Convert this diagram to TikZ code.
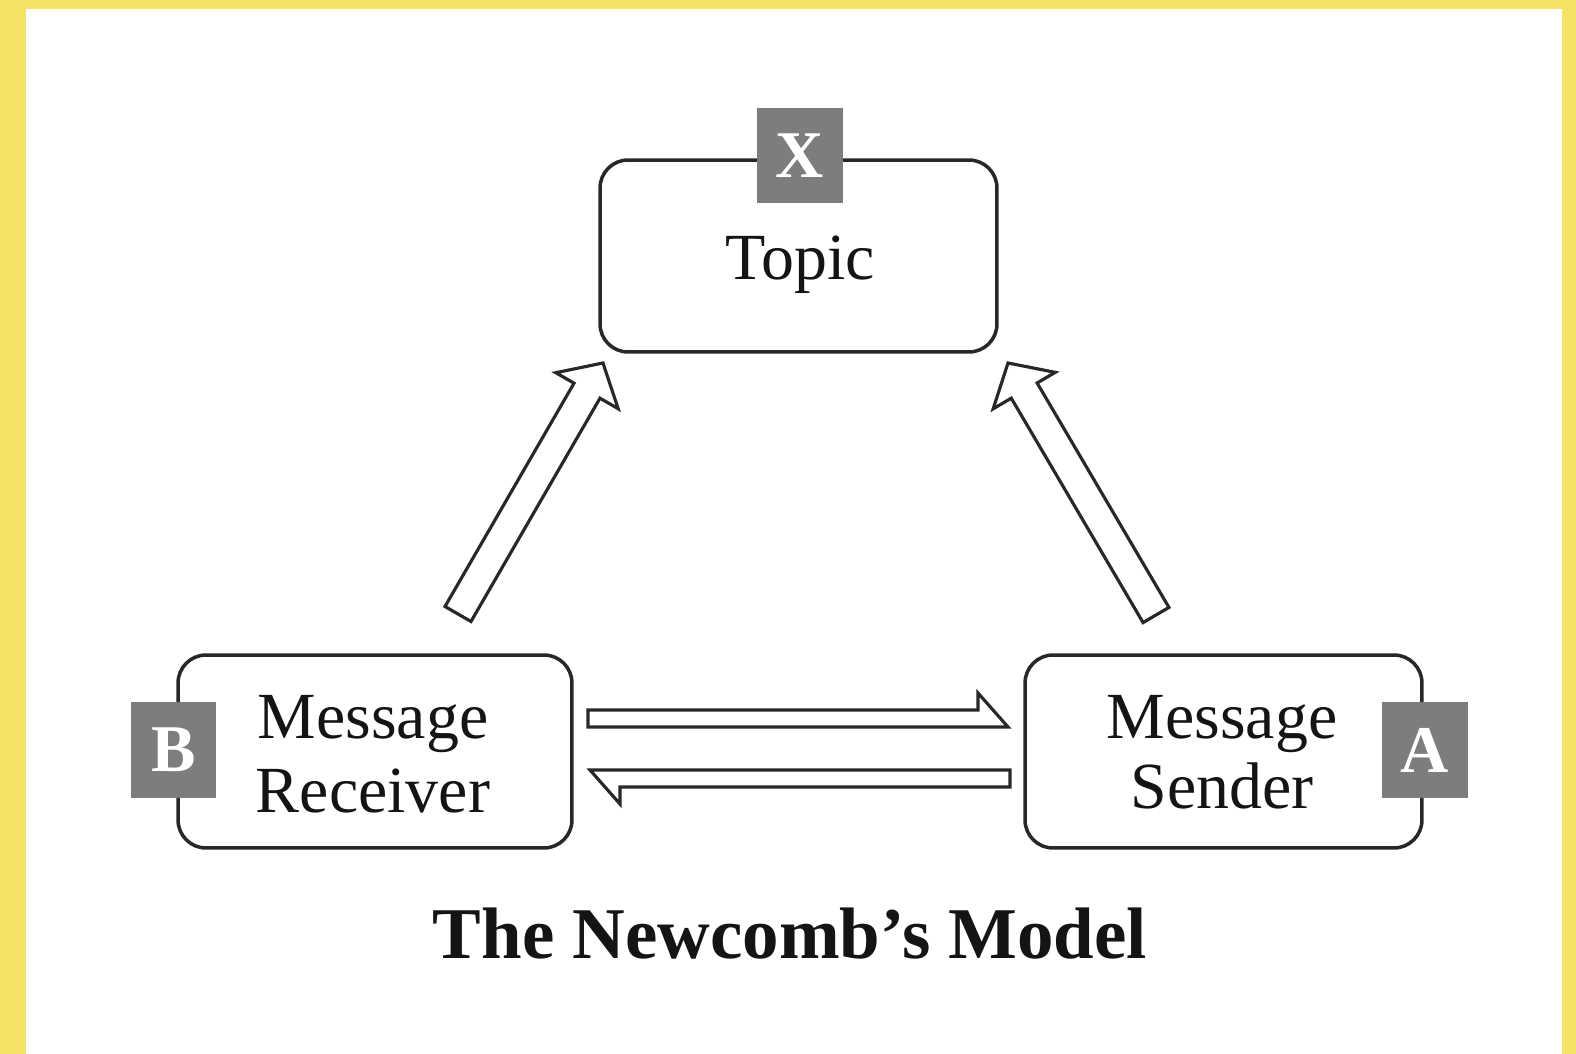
\documentclass[tikz,border=0pt]{standalone}
\usepackage{fontspec}
\setmainfont{Liberation Serif}
\usetikzlibrary{calc}
\definecolor{bgyellow}{RGB}{244,227,102}
\definecolor{sqgray}{RGB}{125,125,125}
\definecolor{ink}{RGB}{40,40,40}
\definecolor{txt}{RGB}{20,20,20}
\newcommand\blockarrow[2]{%
  \coordinate (#1-h) at ($(#2)!0.64cm!(#1)$);
  \draw[blk] ($(#1)!0.3cm!90:(#2)$) -- ($(#1-h)!0.3cm!90:(#2)$) -- ($(#1-h)!0.72cm!90:(#2)$)
    -- (#2) -- ($(#1-h)!0.72cm!-90:(#2)$) -- ($(#1-h)!0.3cm!-90:(#2)$) -- ($(#1)!0.3cm!-90:(#2)$) -- cycle;}
\newcommand\harpoonarrow[2]{%
  \coordinate (#1-h) at ($(#2)!0.6cm!(#1)$);
  \draw[blk] (#1) -- (#2) -- ($(#1-h)!0.68cm!90:(#2)$) -- ($(#1-h)!0.34cm!90:(#2)$)
    -- ($(#1)!0.34cm!90:(#2)$) -- cycle;}
\begin{document}
\begin{tikzpicture}[x=0.02cm,y=-0.02cm,
  box/.style={draw=ink, line width=2pt, rounded corners=0.56cm, inner sep=0pt, fill=white},
  tag/.style={fill=sqgray, text=white, font=\fontsize{38}{40}\selectfont\bfseries,
    minimum width=1.72cm, minimum height=1.92cm, inner sep=0pt},
  lbl/.style={font=\fontsize{37.5}{42}\selectfont, text=txt, inner sep=0pt},
  blk/.style={draw=ink, line width=1.8pt, fill=white, line join=miter}]
\useasboundingbox (0,0) rectangle (1576,1054);
\fill[bgyellow] (0,0) rectangle (1576,1054);
\fill[white] (26,9) rectangle (1562,1054);
% boxes
\node[box, minimum width=7.94cm, minimum height=3.84cm] (topic) at (798.5,256) {};
\node[box, minimum width=7.88cm, minimum height=3.86cm] (recv) at (375,751.5) {};
\node[box, minimum width=7.94cm, minimum height=3.86cm] (send) at (1223.5,751.5) {};
% tags
\node[tag] (xtag) at (799.5,155.5) {X};
\node[tag] (btag) at (173.5,750) {B};
\node[tag] (atag) at (1424.5,750) {A};
% texts
\node[lbl, anchor=base] (topictxt) at (800,280) {Topic};
\node[lbl, anchor=base] (recv1) at (373,738) {Message};
\node[lbl, anchor=base] (recv2) at (373,812) {Receiver};
\node[lbl, anchor=base] (send1) at (1222,738) {Message};
\node[lbl, anchor=base] (send2) at (1222,808) {Sender};
% arrows
\coordinate (lt) at (458,614);
\coordinate (lp) at (603,363);
\coordinate (rt) at (1156,615);
\coordinate (rp) at (1008,363);
\blockarrow{lt}{lp}
\blockarrow{rt}{rp}
\coordinate (ht) at (588,727);
\coordinate (hp) at (1008,727);
\coordinate (bt) at (1010,770);
\coordinate (bp) at (590,770);
\harpoonarrow{ht}{hp}
\harpoonarrow{bt}{bp}
% title
\node[font=\fontsize{41.5}{44}\selectfont\bfseries, text=txt, anchor=base, inner sep=0pt] (title) at (790,958) {The Newcomb's Model};
\end{tikzpicture}
\end{document}
